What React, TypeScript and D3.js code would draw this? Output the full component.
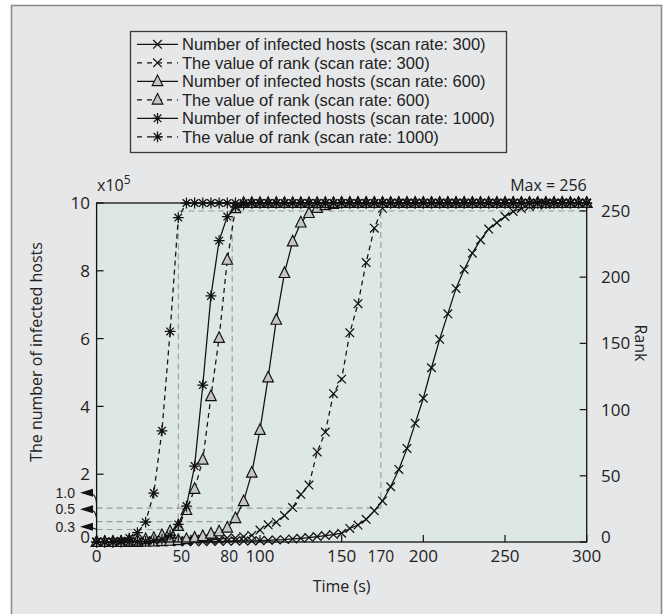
import React from "react";
import * as d3 from "d3";

// time grid (s), one sample every 5 s
const times = d3.range(0, 301, 5);

// number of infected hosts, in units of 10^5
const hosts300 = [
  0, 0, 0, 0, 0, 0, 0, 0, 0.01, 0.01, 0.01, 0.01, 0.01, 0.01, 0.02, 0.02, 0.02, 0.03, 0.03, 0.03,
  0.04, 0.05, 0.06, 0.07, 0.09, 0.11, 0.13, 0.16, 0.19, 0.22, 0.26,
  0.4, 0.5, 0.67, 0.92, 1.21, 1.63, 2.14, 2.76, 3.5, 4.24,
  5.14, 5.98, 6.73, 7.48, 8.04, 8.52, 8.91, 9.23, 9.42, 9.6,
  9.75, 9.84, 9.9, 9.94, 9.96, 9.98, 9.99, 10, 10, 10,
];
const hosts600 = [
  0, 0, 0, 0, 0, 0, 0.01, 0.01, 0.02, 0.03,
  0.05, 0.08, 0.12, 0.17, 0.24, 0.31, 0.42, 0.7, 1.2, 2.04,
  3.3, 4.85, 6.55, 7.93, 8.86, 9.42, 9.7, 9.85, 9.93, 9.97,
  10, 10, 10, 10, 10, 10, 10, 10, 10, 10, 10, 10, 10, 10, 10, 10,
  10, 10, 10, 10, 10, 10, 10, 10, 10, 10, 10, 10, 10, 10, 10,
];
const hosts1000 = [
  0, 0, 0, 0, 0.01, 0.01, 0.02, 0.04, 0.08, 0.2,
  0.52, 1.06, 2.24, 4.63, 7.26, 8.89, 9.6, 9.88, 9.96, 10,
  10, 10, 10, 10, 10, 10, 10, 10, 10, 10, 10, 10, 10, 10, 10, 10, 10, 10, 10, 10,
  10, 10, 10, 10, 10, 10, 10, 10, 10, 10, 10, 10, 10, 10, 10, 10, 10, 10, 10, 10, 10,
];

// rank values (right axis, max 256)
const rank300 = [
  0, 0, 0, 0, 0, 0, 1, 1, 1, 1,
  1, 1, 2, 2, 2, 2, 3, 3, 4, 5,
  9, 13, 15, 20, 26, 36, 43, 68, 83, 112,
  123, 158, 180, 211, 237, 252, 256, 256, 256, 256,
  256, 256, 256, 256, 256, 256, 256, 256, 256, 256, 256,
  256, 256, 256, 256, 256, 256, 256, 256, 256, 256,
];
const rank600 = [
  0, 0, 0, 0, 1, 1, 2, 3, 5, 8,
  12, 24, 40, 62, 110, 154, 213, 252, 256, 256,
  256, 256, 256, 256, 256, 256, 256, 256, 256, 256, 256, 256, 256, 256, 256, 256, 256, 256, 256, 256,
  256, 256, 256, 256, 256, 256, 256, 256, 256, 256, 256, 256, 256, 256, 256, 256, 256, 256, 256, 256, 256,
];
const rank1000 = [
  0, 0, 0, 1, 3, 7, 15, 37, 84, 159,
  245, 256, 256, 256, 256, 256, 256, 256, 256, 256,
  256, 256, 256, 256, 256, 256, 256, 256, 256, 256, 256, 256, 256, 256, 256, 256, 256, 256, 256, 256,
  256, 256, 256, 256, 256, 256, 256, 256, 256, 256, 256, 256, 256, 256, 256, 256, 256, 256, 256, 256, 256,
];

const legendLabels = [
  "Number of infected hosts (scan rate: 300)",
  "The value of rank (scan rate: 300)",
  "Number of infected hosts (scan rate: 600)",
  "The value of rank (scan rate: 600)",
  "Number of infected hosts (scan rate: 1000)",
  "The value of rank (scan rate: 1000)",
];

const xTicks = [0, 50, 100, 150, 200, 250, 300];
const xTickLabels = ["0", "", "100", "150", "200", "250", "300"];
const leftTicks = [0, 2, 4, 6, 8, 10];
const rightTicks = [0, 50, 100, 150, 200, 250];

// dashed guide lines: time where the rank reaches its max, host level at that time
const guideX = [50, 83, 174];
const guideXLabels = ["50", "80", "170"];
const guideY = [0.37, 0.6, 1.0];
const guideYLabels = ["0.3", "0.5", "1.0"];
const rankTop = 250;

const FONT = "'Open Sans', sans-serif";
const LEGEND_FONT = "'Liberation Sans', Arial, sans-serif";

type Mk = "x" | "tri" | "star";

function Marker({ kind, x, y }: { kind: Mk; x: number; y: number }) {
  if (kind === "x") {
    const s = 4.3;
    return (
      <path
        d={`M${x - s},${y - s}L${x + s},${y + s}M${x - s},${y + s}L${x + s},${y - s}`}
        stroke="#111"
        strokeWidth={1.25}
        fill="none"
      />
    );
  }
  if (kind === "tri") {
    const s = 5.3;
    return (
      <path
        d={`M${x},${y - s - 1}L${x + s},${y + s - 1}L${x - s},${y + s - 1}Z`}
        stroke="#111"
        strokeWidth={1.15}
        fill="#c4c6c5"
      />
    );
  }
  const s = 5.4;
  const d = 3.8;
  return (
    <path
      d={`M${x},${y - s}L${x},${y + s}M${x - s},${y}L${x + s},${y}M${x - d},${y - d}L${x + d},${y + d}M${x - d},${y + d}L${x + d},${y - d}`}
      stroke="#111"
      strokeWidth={1.25}
      fill="none"
    />
  );
}

export default function App() {
  const left = 96.6;
  const right = 586.7;
  const top = 203;
  const bottom = 542;

  const x = d3.scaleLinear().domain([0, 300]).range([left, right]);
  const yL = d3.scaleLinear().domain([0, 10]).range([bottom, top]);
  const yR = d3.scaleLinear().domain([0, 256]).range([bottom, top]);

  const series: { vals: number[]; y: (v: number) => number; dash: boolean; mk: Mk }[] = [
    { vals: hosts300, y: yL, dash: false, mk: "x" },
    { vals: rank300, y: yR, dash: true, mk: "x" },
    { vals: hosts600, y: yL, dash: false, mk: "tri" },
    { vals: rank600, y: yR, dash: true, mk: "tri" },
    { vals: hosts1000, y: yL, dash: false, mk: "star" },
    { vals: rank1000, y: yR, dash: true, mk: "star" },
  ];

  const line = (s: (typeof series)[number]) =>
    d3
      .line<number>()
      .x((_, i) => x(times[i]))
      .y((v) => s.y(v))(s.vals) || "";

  const guideTop = yR(rankTop);
  // label offsets of the call-out texts relative to their guide line
  const labelOffsets = [-2.8, -12.4, -15.4];

  return (
    <svg
      width={669}
      height={614}
      style={{ position: "absolute", left: 0, top: 0, background: "#fff" }}
      fontFamily={FONT}
    >
      <rect x={11.5} y={5.5} width={650} height={620} fill="#e6e7e9" stroke="#8c8c8c" strokeWidth={1.6} />

      {/* plot area */}
      <rect x={left} y={top} width={right - left} height={bottom - top} fill="#dde7e3" />

      {/* guide lines */}
      <g stroke="#9a9c9b" strokeWidth={1.1} strokeDasharray="6,4" fill="none">
        <line x1={x(guideX[0])} x2={right} y1={guideTop} y2={guideTop} />
        {guideX.map((gx, i) => (
          <g key={i}>
            <line x1={left} x2={x(gx)} y1={yL(guideY[i])} y2={yL(guideY[i])} />
            <line x1={x(gx)} x2={x(gx)} y1={yL(guideY[i])} y2={guideTop} />
          </g>
        ))}
      </g>

      {/* series */}
      {series.map((s, si) => (
        <g key={si}>
          <path
            d={line(s)}
            fill="none"
            stroke="#111"
            strokeWidth={1.25}
            strokeDasharray={s.dash ? "5,4" : undefined}
          />
          {s.vals.map((v, i) => (
            <Marker key={i} kind={s.mk} x={x(times[i])} y={s.y(v)} />
          ))}
        </g>
      ))}

      {/* frame */}
      <rect x={left} y={top} width={right - left} height={bottom - top} fill="none" stroke="#111" strokeWidth={1.3} />

      {/* x axis */}
      {xTicks.map((t, i) => (
        <g key={t}>
          <line x1={x(t)} x2={x(t)} y1={bottom} y2={bottom - 7} stroke="#111" strokeWidth={1.2} />
          <text x={x(t)} y={562} textAnchor="middle" fontSize={17} fill="#222">
            {xTickLabels[i]}
          </text>
        </g>
      ))}
      {guideX.map((gx, i) => (
        <text key={i} x={x(gx) + (i === 0 ? 3 : i === 1 ? -3 : 0)} y={562} textAnchor="middle" fontSize={15.5} fill="#222">
          {guideXLabels[i]}
        </text>
      ))}
      <text x={x(150)} y={592} textAnchor="middle" fontSize={16} fill="#222">
        Time (s)
      </text>

      {/* left axis */}
      {leftTicks.map((t) => (
        <g key={t}>
          <line x1={left} x2={left + 7} y1={yL(t)} y2={yL(t)} stroke="#111" strokeWidth={1.2} />
          <text x={90} y={yL(t) - (t === 0 ? 5 : 0)} dy="0.36em" textAnchor="end" fontSize={17} fill="#222">
            {t}
          </text>
        </g>
      ))}
      <text x={97} y={191} fontSize={16} fill="#222">
        x10<tspan dy={-7} fontSize={12}>5</tspan>
      </text>
      <text transform={`translate(42,352) rotate(-90)`} textAnchor="middle" fontSize={16} fill="#222">
        The number of infected hosts
      </text>

      {/* right axis */}
      {rightTicks.map((t) => (
        <g key={t}>
          <line x1={right} x2={right - 7} y1={yR(t)} y2={yR(t)} stroke="#111" strokeWidth={1.2} />
          <text x={601} y={yR(t) - (t === 0 ? 5 : 0)} dy="0.36em" fontSize={17} fill="#222">
            {t}
          </text>
        </g>
      ))}
      <text x={right} y={191} textAnchor="end" fontSize={16} fill="#222">
        Max = 256
      </text>
      <text transform={`translate(635,343) rotate(90)`} textAnchor="middle" fontSize={16} fill="#222">
        Rank
      </text>

      {/* small-value call-outs on the left axis */}
      {guideY.map((gy, i) => {
        const ly = yL(gy) + labelOffsets[i];
        const ay = yL(gy);
        return (
          <g key={i}>
            <text x={75} y={ly} dy="0.36em" textAnchor="end" fontSize={14} fontFamily={LEGEND_FONT} fill="#222">
              {guideYLabels[i]}
            </text>
            <path d={`M80,${ly}L93,${ly - 4}L93,${ly + 4}Z`} fill="#111" />
            <path d={`M92,${ly + 1}Q97,${ly + 3} ${left},${ay}`} fill="none" stroke="#111" strokeWidth={1.1} />
          </g>
        );
      })}

      {/* legend */}
      <rect x={130.5} y={31.5} width={376} height={121} fill="#e6e7e9" stroke="#3a3a3a" strokeWidth={1.3} />
      {legendLabels.map((lab, i) => {
        const s = series[i];
        const ly = 44.3 + i * 18.5;
        return (
          <g key={i}>
            <line
              x1={137}
              x2={178}
              y1={ly}
              y2={ly}
              stroke="#111"
              strokeWidth={1.2}
              strokeDasharray={s.dash ? "5,5" : undefined}
            />
            <Marker kind={s.mk} x={157.5} y={ly} />
            <text x={182} y={ly} dy="0.36em" fontSize={16.5} fontFamily={LEGEND_FONT} fill="#222">
              {lab}
            </text>
          </g>
        );
      })}
    </svg>
  );
}
